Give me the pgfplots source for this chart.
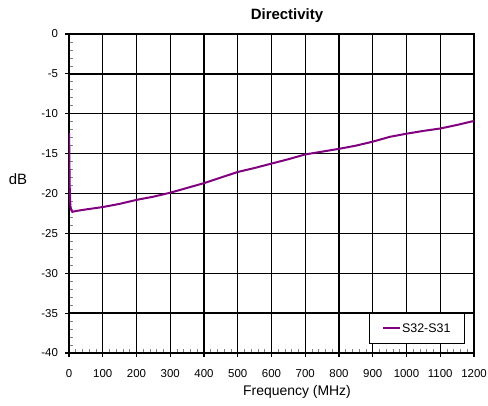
\documentclass[border=0pt]{standalone}
\usepackage{pgfplots}
\pgfplotsset{compat=1.18}
\usepackage{fontspec}
\setmainfont{Liberation Sans}
\definecolor{curve}{RGB}{128,0,128}
\begin{document}
\begin{tikzpicture}
\useasboundingbox (-69bp,-53bp) rectangle (419bp,353bp);
\begin{axis}[
  at={(0,0)}, anchor=south west,
  scale only axis, width=405bp, height=319bp,
  xmin=0, xmax=1200, ymin=-40, ymax=0,
  xtick={0,100,...,1200}, ytick={-40,-35,...,0},
  minor x tick num=4, minor y tick num=4,
  xtick pos=left, ytick pos=left,
  tick align=center, major tick length=7bp, minor tick length=4bp,
  minor x tick style={yshift=2bp, line width=0.8bp},
  minor y tick style={xshift=2bp, line width=0.8bp},
  major tick style={line width=1.2bp, black},
  grid=major, major grid style={black, line width=1.4bp},
  axis line style={black, line width=1.4bp},
  /pgf/number format/assume math mode=true,
  /pgf/number format/1000 sep={},
  scaled ticks=false,
  xticklabel style={font=\fontsize{11.5}{13}\selectfont, yshift=-9bp},
  yticklabel style={font=\fontsize{11.5}{13}\selectfont, xshift=-4bp},
  xlabel={Frequency (MHz)}, ylabel={dB},
  every axis x label/.style={at={(0,0)}, anchor=base, xshift=228bp, yshift=-42bp, font=\fontsize{14}{16}\selectfont},
  every axis y label/.style={at={(0,0.5)}, anchor=center, xshift=-51bp, yshift=14bp, font=\fontsize{15}{17}\selectfont},
  legend style={at={(1,0)}, anchor=south east, xshift=-9bp, yshift=9bp,
    draw=black, line width=0.9bp, font=\fontsize{12.5}{14}\selectfont,
    inner xsep=13bp, inner ysep=8bp, nodes={inner xsep=1bp}},
  legend image post style={line width=2bp},
  legend cell align=left,
]
\addplot[curve, line width=2bp] coordinates {
(0.3,-12.4) (1,-15) (2,-19) (4,-21.5) (6,-22.0) (10,-22.3) (20,-22.2)
(50,-22.0) (100,-21.7) (150,-21.3) (200,-20.8) (250,-20.4) (300,-19.9)
(350,-19.3) (400,-18.7) (450,-18.0) (500,-17.3) (550,-16.8) (600,-16.25)
(650,-15.7) (700,-15.1) (750,-14.75) (800,-14.4) (850,-14.0) (900,-13.5)
(950,-12.9) (1000,-12.5) (1050,-12.15) (1100,-11.85) (1150,-11.4) (1200,-10.9)
};
\addlegendentry{S32-S31}
\end{axis}
\node[font=\bfseries\fontsize{15}{17}\selectfont, anchor=base] at (218bp,333bp) {Directivity};
\end{tikzpicture}
\end{document}
